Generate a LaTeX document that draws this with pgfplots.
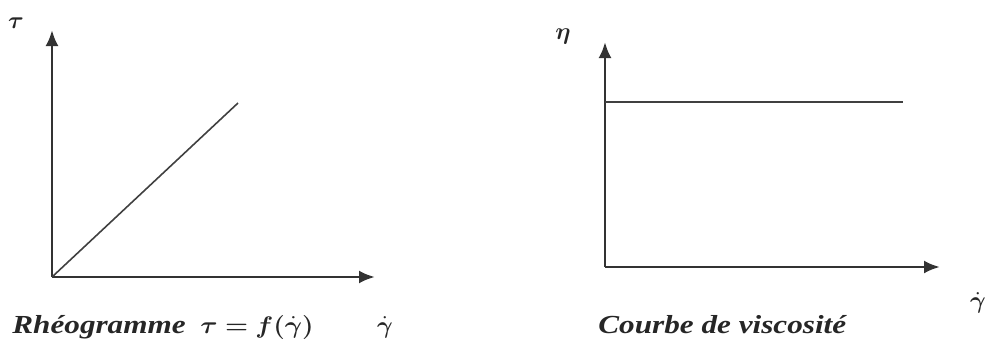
\documentclass[border=0pt]{standalone}
\usepackage{pgfplots}
\pgfplotsset{compat=1.18}
\usepackage{bm}
\usepackage{fontspec}
\setmainfont{Liberation Serif}
\usetikzlibrary{arrows.meta}
\begin{document}
\begin{tikzpicture}
\useasboundingbox (0,0) rectangle (492.5pt,172pt);
\pgfplotsset{myax/.style={scale only axis, axis lines=left, ticks=none, clip=false,
  axis line style={-{Latex[length=8pt,width=6.5pt]}, line width=1.4pt, black!80},
  anchor=south west}}
% left: rheogram
\begin{axis}[myax, at={(26pt,33.5pt)}, width=161.5pt, height=123.5pt,
  xmin=0, xmax=323, ymin=0, ymax=247]
\addplot[line width=0.8pt, black!75] coordinates {(0,0) (186,174)};
\end{axis}
% right: viscosity
\begin{axis}[myax, at={(302.5pt,38.5pt)}, width=167.5pt, height=112.5pt,
  xmin=0, xmax=335, ymin=0, ymax=225]
\addplot[line width=0.9pt, black!75] coordinates {(0,165) (298,165)};
\end{axis}
\begin{scope}[every node/.style={inner sep=0pt, text=black!85, font=\fontsize{13}{15}\selectfont\bfseries\itshape}]
\node at (8pt,160.5pt) {$\bm{\tau}$};
\node at (281.5pt,154pt) {$\bm{\eta}$};
\node[anchor=base west] at (6pt,5.5pt) {\scalebox{1.2}[1]{Rhéogramme}};
\node[anchor=base west] at (100pt,5.5pt) {\scalebox{1.1}[1]{$\bm{\tau = f(\dot{\gamma})}$}};
\node[anchor=base] at (192.5pt,5.5pt) {$\bm{\dot{\gamma}}$};
\node[anchor=base west] at (299pt,5.5pt) {\scalebox{1.2}[1]{Courbe de viscosité}};
\node at (489pt,20.5pt) {$\bm{\dot{\gamma}}$};
\end{scope}
\end{tikzpicture}
\end{document}
